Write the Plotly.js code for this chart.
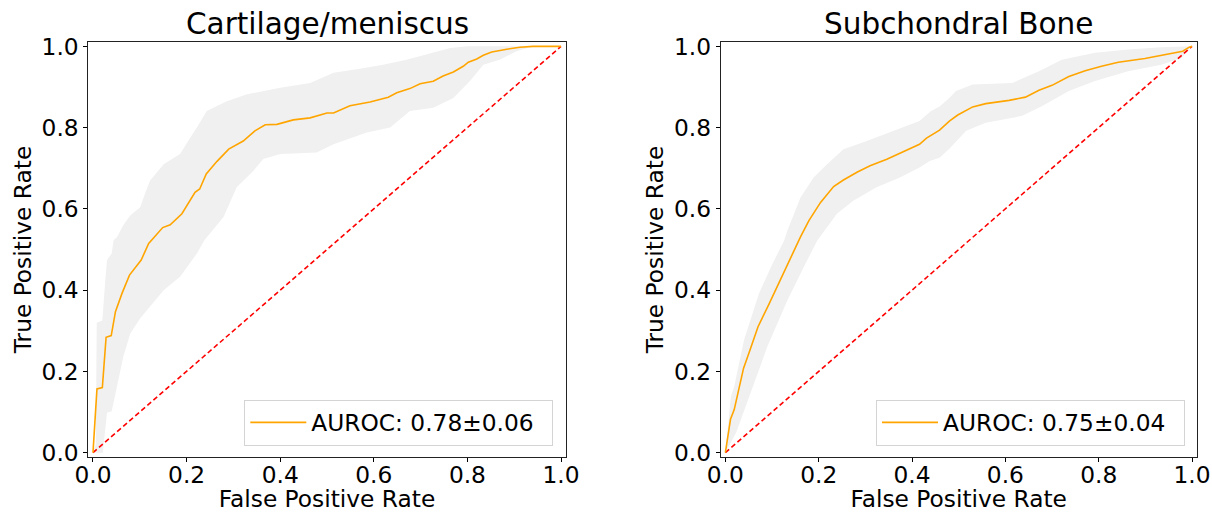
<!DOCTYPE html>
<html>
<head>
<meta charset="utf-8">
<script src="https://cdn.plot.ly/plotly-3.0.1.min.js"></script>
<style>html,body{margin:0;padding:0;background:#fff;}#chart{width:1212px;height:512px;}</style>
</head>
<body>
<div id="chart"></div>
<script>
// ---- Panel titles and labels ----
const panelTitles = ["Cartilage/meniscus", "Subchondral Bone"];
const legendLabels = ["AUROC: 0.78\u00b10.06", "AUROC: 0.75\u00b10.04"];
const xLabel = "False Positive Rate";
const yLabel = "True Positive Rate";
const tickVals = [0, 0.2, 0.4, 0.6, 0.8, 1.0];
const tickText = ["0.0", "0.2", "0.4", "0.6", "0.8", "1.0"];
const chanceX = [0, 1];
const chanceY = [0, 1];

// ---- Cartilage/meniscus: mean ROC ----
const cartMeanFpr = [0, 0.0085, 0.02, 0.028, 0.039, 0.048, 0.062, 0.078, 0.103, 0.119, 0.149, 0.165, 0.19, 0.218, 0.228, 0.242, 0.265, 0.29, 0.321, 0.346, 0.368, 0.393, 0.428, 0.464, 0.5, 0.514, 0.549, 0.592, 0.631, 0.649, 0.677, 0.699, 0.727, 0.748, 0.77, 0.791, 0.802, 0.82, 0.834, 0.852, 0.884, 0.912, 0.94, 1.0];
const cartMeanTpr = [0, 0.157, 0.16, 0.284, 0.288, 0.347, 0.392, 0.437, 0.474, 0.515, 0.554, 0.561, 0.588, 0.641, 0.649, 0.686, 0.717, 0.747, 0.767, 0.792, 0.807, 0.808, 0.819, 0.824, 0.836, 0.836, 0.854, 0.863, 0.875, 0.886, 0.896, 0.908, 0.914, 0.927, 0.937, 0.951, 0.961, 0.969, 0.978, 0.986, 0.993, 0.998, 1.0, 1.0];
// upper / lower std band
const cartUpperFpr = [0, 0.006, 0.008, 0.02, 0.026, 0.03, 0.04, 0.044, 0.051, 0.065, 0.08, 0.101, 0.112, 0.122, 0.151, 0.186, 0.205, 0.222, 0.243, 0.286, 0.329, 0.361, 0.4, 0.464, 0.514, 0.57, 0.62, 0.67, 0.727, 0.763, 0.8, 1.0];
const cartUpperTpr = [0, 0.02, 0.32, 0.325, 0.42, 0.474, 0.49, 0.523, 0.53, 0.56, 0.584, 0.604, 0.64, 0.67, 0.71, 0.735, 0.77, 0.8, 0.841, 0.865, 0.882, 0.89, 0.898, 0.91, 0.935, 0.945, 0.955, 0.967, 0.984, 0.996, 1.0, 1.0];
const cartLowerFpr = [0, 0.021, 0.03, 0.04, 0.048, 0.065, 0.08, 0.101, 0.151, 0.186, 0.222, 0.238, 0.279, 0.307, 0.343, 0.364, 0.4, 0.44, 0.478, 0.514, 0.585, 0.635, 0.677, 0.727, 0.77, 0.805, 0.834, 0.869, 0.905, 0.933, 1.0];
const cartLowerTpr = [0, 0, 0.098, 0.102, 0.147, 0.237, 0.294, 0.331, 0.4, 0.433, 0.49, 0.523, 0.58, 0.653, 0.694, 0.723, 0.735, 0.737, 0.739, 0.759, 0.788, 0.8, 0.841, 0.849, 0.873, 0.914, 0.955, 0.967, 0.988, 0.998, 1.0];

// ---- Subchondral Bone: mean ROC ----
const boneMeanFpr = [0, 0.011, 0.019, 0.039, 0.053, 0.07, 0.094, 0.119, 0.136, 0.161, 0.179, 0.204, 0.232, 0.253, 0.282, 0.31, 0.346, 0.381, 0.416, 0.431, 0.459, 0.48, 0.498, 0.53, 0.558, 0.608, 0.643, 0.672, 0.7, 0.736, 0.771, 0.806, 0.842, 0.899, 0.948, 0.98, 0.994, 1.0];
const boneMeanTpr = [0, 0.082, 0.106, 0.208, 0.253, 0.31, 0.367, 0.429, 0.473, 0.531, 0.571, 0.616, 0.655, 0.671, 0.69, 0.706, 0.722, 0.741, 0.759, 0.774, 0.794, 0.816, 0.831, 0.851, 0.859, 0.867, 0.875, 0.892, 0.904, 0.926, 0.94, 0.951, 0.961, 0.97, 0.981, 0.988, 0.998, 1.0];
const boneUpperFpr = [0, 0.012, 0.019, 0.04, 0.072, 0.101, 0.126, 0.133, 0.161, 0.189, 0.218, 0.253, 0.303, 0.36, 0.416, 0.44, 0.459, 0.48, 0.494, 0.53, 0.615, 0.672, 0.721, 0.792, 0.863, 0.934, 1.0];
const boneUpperTpr = [0, 0.139, 0.163, 0.277, 0.392, 0.465, 0.522, 0.547, 0.628, 0.677, 0.71, 0.747, 0.767, 0.792, 0.816, 0.84, 0.852, 0.873, 0.89, 0.906, 0.91, 0.939, 0.967, 0.984, 0.992, 0.998, 1.0];
const boneLowerFpr = [0, 0.023, 0.055, 0.09, 0.133, 0.175, 0.197, 0.204, 0.239, 0.274, 0.324, 0.374, 0.416, 0.438, 0.459, 0.48, 0.516, 0.558, 0.636, 0.679, 0.736, 0.792, 0.863, 0.934, 0.977, 1.0];
const boneLowerTpr = [0, 0.049, 0.151, 0.261, 0.375, 0.473, 0.522, 0.531, 0.588, 0.62, 0.653, 0.677, 0.702, 0.718, 0.726, 0.748, 0.792, 0.812, 0.829, 0.853, 0.89, 0.915, 0.939, 0.955, 0.971, 1.0];

const FONT = "DejaVu Sans, Liberation Sans, sans-serif";
const bandColor = "#f0f0f0";
const meanColor = "#ffa500";
const chanceColor = "#ff0000";
const FS = 23.3;
const TFS = 29.5;

function band(ux, uy, lx, ly, xa, ya) {
  return {
    x: ux.concat(lx.slice().reverse()),
    y: uy.concat(ly.slice().reverse()),
    xaxis: xa, yaxis: ya,
    mode: "lines", fill: "toself", fillcolor: bandColor,
    line: {width: 0, color: bandColor}, showlegend: false, hoverinfo: "skip"
  };
}
function chance(xa, ya) {
  return {x: chanceX, y: chanceY, xaxis: xa, yaxis: ya, mode: "lines",
    line: {color: chanceColor, width: 1.6, dash: "5px,3px"}, showlegend: false};
}
function mean(x, y, xa, ya, name, leg) {
  return {x: x, y: y, xaxis: xa, yaxis: ya, mode: "lines", name: name, legend: leg,
    line: {color: meanColor, width: 1.6}, showlegend: true};
}

const data = [
  band(cartUpperFpr, cartUpperTpr, cartLowerFpr, cartLowerTpr, "x", "y"),
  chance("x", "y"),
  mean(cartMeanFpr, cartMeanTpr, "x", "y", legendLabels[0], "legend"),
  band(boneUpperFpr, boneUpperTpr, boneLowerFpr, boneLowerTpr, "x2", "y2"),
  chance("x2", "y2"),
  mean(boneMeanFpr, boneMeanTpr, "x2", "y2", legendLabels[1], "legend2")
];

const W = 1212, H = 512;
const yDom = [(H - 456.7) / H, (H - 42.3) / H];
function xAxis(dom, anchor) {
  return {domain: dom, anchor: anchor, range: [-0.01, 1.01], tickvals: tickVals, ticktext: tickText,
    ticks: "outside", ticklen: 4, tickwidth: 1, tickcolor: "#000", ticklabelstandoff: -7,
    showline: true, mirror: true, linecolor: "#222", linewidth: 1, showgrid: false, zeroline: false,
    tickfont: {family: FONT, size: FS, color: "#000"},
    title: {text: xLabel, font: {family: FONT, size: FS, color: "#000"}, standoff: 11},
    automargin: false, fixedrange: true};
}
function yAxis(anchor) {
  return {domain: yDom, anchor: anchor, range: [-0.01, 1.01], tickvals: tickVals, ticktext: tickText,
    ticks: "outside", ticklen: 4, tickwidth: 1, tickcolor: "#000",
    showline: true, mirror: true, linecolor: "#222", linewidth: 1, showgrid: false, zeroline: false,
    tickfont: {family: FONT, size: FS, color: "#000"},
    title: {text: yLabel, font: {family: FONT, size: FS, color: "#000"}, standoff: 3},
    automargin: false, fixedrange: true};
}

const xDom1 = [88.3 / W, 565.7 / W];
const xDom2 = [720.7 / W, 1196.7 / W];

const legendBase = {
  yref: "paper", xref: "paper", xanchor: "right", yanchor: "bottom",
  bgcolor: "#ffffff", bordercolor: "#d4d4d4", borderwidth: 1,
  font: {family: FONT, size: FS, color: "#000"}, orientation: "h",
  itemwidth: 56, entrywidth: 236, entrywidthmode: "pixels"
};

const layout = {
  width: W, height: H,
  margin: {l: 0, r: 0, t: 0, b: 0, pad: 0},
  paper_bgcolor: "#ffffff", plot_bgcolor: "#ffffff",
  font: {family: FONT, color: "#000"},
  xaxis: xAxis(xDom1, "y"),
  yaxis: yAxis("x"),
  xaxis2: xAxis(xDom2, "y2"),
  yaxis2: yAxis("x2"),
  legend: Object.assign({}, legendBase, {x: 553.3 / W, y: (H - 445.7) / H}),
  legend2: Object.assign({}, legendBase, {x: 1185 / W, y: (H - 445.7) / H}),
  annotations: [
    {text: panelTitles[0], xref: "paper", yref: "paper", x: (xDom1[0] + xDom1[1]) / 2, y: yDom[1],
      xanchor: "center", yanchor: "bottom", showarrow: false, yshift: -1,
      font: {family: FONT, size: TFS, color: "#000"}},
    {text: panelTitles[1], xref: "paper", yref: "paper", x: (xDom2[0] + xDom2[1]) / 2, y: yDom[1],
      xanchor: "center", yanchor: "bottom", showarrow: false, yshift: -1,
      font: {family: FONT, size: TFS, color: "#000"}}
  ],
  showlegend: true
};

Plotly.newPlot("chart", data, layout, {displayModeBar: false, staticPlot: true});
</script>
</body>
</html>
